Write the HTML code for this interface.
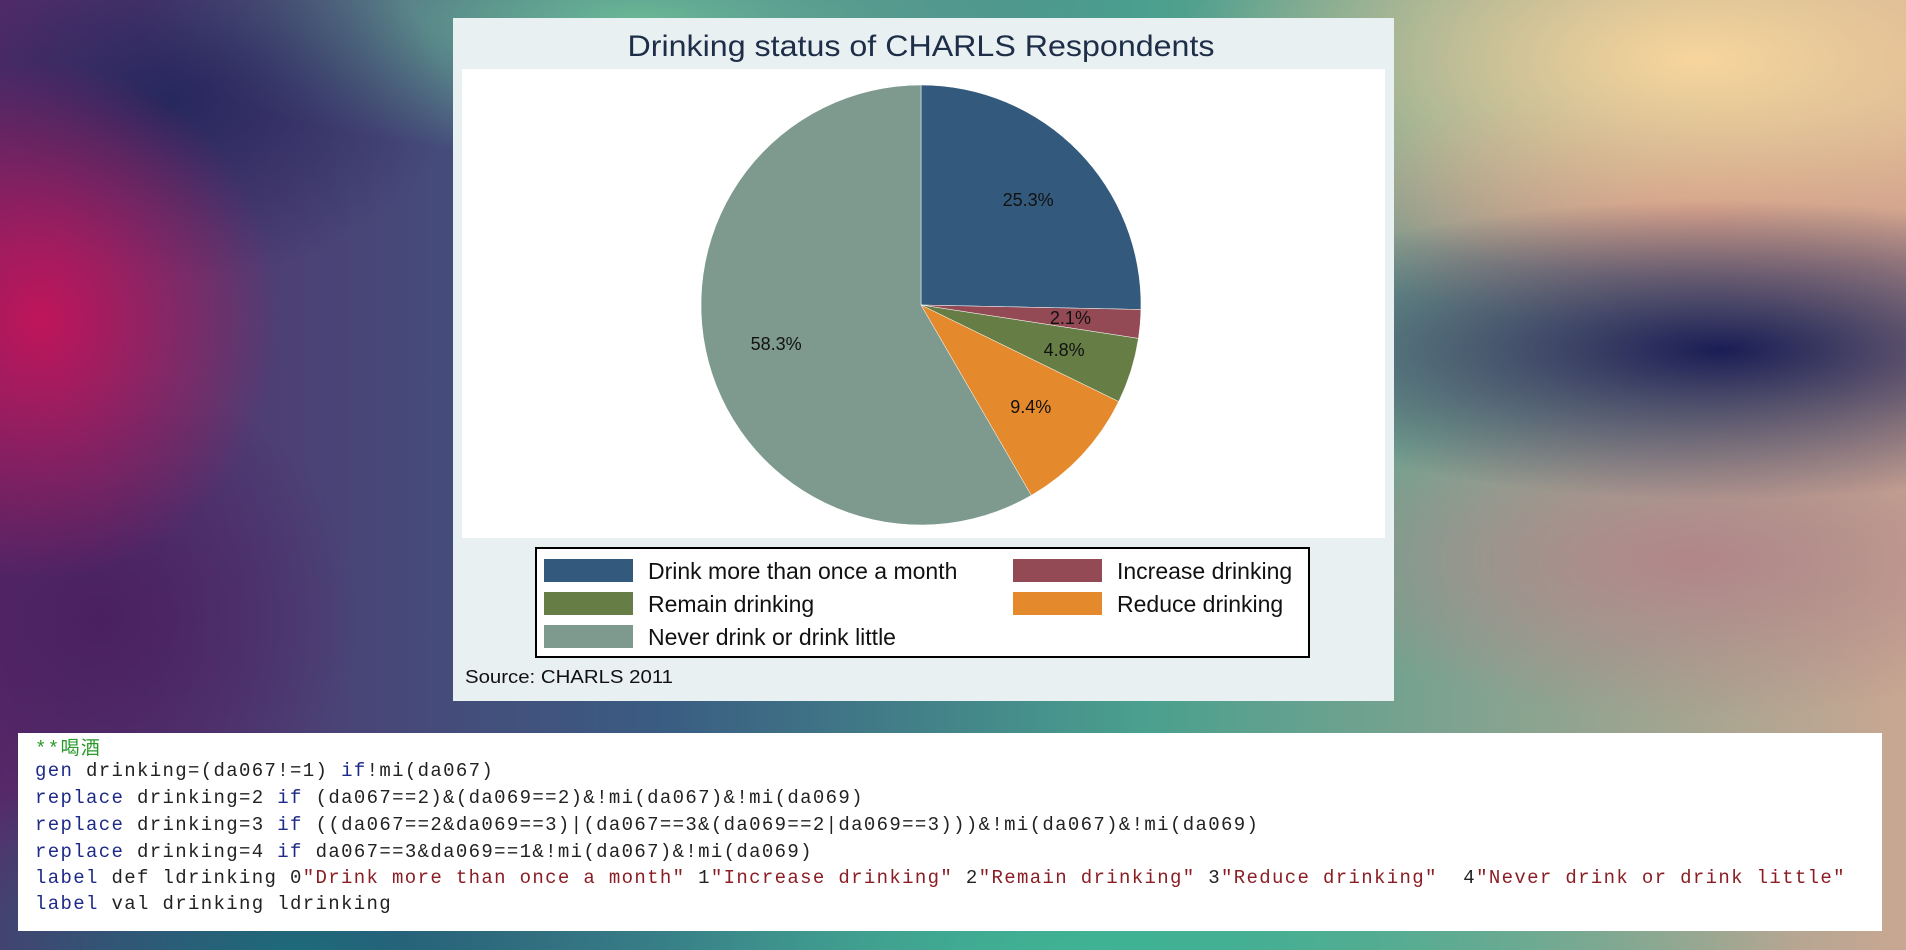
<!DOCTYPE html>
<html><head><meta charset="utf-8"><style>
html,body{margin:0;padding:0;width:1906px;height:950px;overflow:hidden}
body{position:relative;background:#2a6a80;font-family:"Liberation Sans",sans-serif}
#bg{position:absolute;left:0;top:0;width:1906px;height:950px;
background:
radial-gradient(ellipse 240px 260px at 40px 320px,#c0155a 0%,rgba(192,21,90,0) 100%),
radial-gradient(ellipse 280px 180px at 170px 100px,#26285e 0%,rgba(38,40,94,0) 100%),
radial-gradient(ellipse 520px 150px at 1720px 350px,#1a1d55 0%,rgba(26,29,85,0) 100%),
radial-gradient(ellipse 520px 220px at 1700px 60px,#f8d59c 0%,rgba(248,213,156,0) 100%),
radial-gradient(ellipse 420px 160px at 1700px 560px,#b2868a 0%,rgba(178,134,138,0) 100%),
radial-gradient(ellipse 420px 120px at 1700px 210px,#c98c84 0%,rgba(201,140,132,0) 100%),
radial-gradient(ellipse 500px 140px at 640px 20px,#6ab896 0%,rgba(106,184,150,0) 100%),
radial-gradient(ellipse 700px 200px at 1100px 950px,#3fb394 0%,rgba(63,179,148,0) 100%),
radial-gradient(ellipse 500px 200px at 300px 950px,#1d6a7a 0%,rgba(29,106,122,0) 100%),
radial-gradient(ellipse 260px 250px at 100px 620px,#4a2060 0%,rgba(74,32,96,0) 100%),
linear-gradient(90deg,#5a2a6a 0%,#3a5d82 35%,#4aa08e 60%,#c9a792 100%);}
#panel{position:absolute;left:453px;top:18px;width:941px;height:683px;background:#e8f0f2}
#code{position:absolute;left:18px;top:733px;width:1864px;height:198px;background:#fff}
.ln{position:absolute;left:17px;font-family:"Liberation Mono","Noto Sans CJK SC",monospace;font-size:19px;letter-spacing:1.35px;color:#222;white-space:pre}
.k{color:#1e2a88}.s{color:#8a1e24}.c{color:#2a9a2a}
</style></head><body>
<div id="bg"></div>
<div id="panel">
<svg width="941" height="683">
<text x="468" y="38" text-anchor="middle" font-size="30" fill="#1e2e48" textLength="587" lengthAdjust="spacingAndGlyphs">Drinking status of CHARLS Respondents</text>
<rect x="9" y="51" width="923" height="469" fill="#fff"/>
<g id="slices"></g>
<rect x="83" y="530" width="773" height="109" fill="#fff" stroke="#000" stroke-width="2"/>
<g id="legend"></g>
<text x="12" y="665" font-size="18" fill="#111" textLength="208" lengthAdjust="spacingAndGlyphs">Source: CHARLS 2011</text>
</svg>
</div>
<div id="code">
<div class="ln c" style="top:0px">**喝酒</div>
<div class="ln" style="top:27px"><span class="k">gen</span> drinking=(da067!=1) <span class="k">if</span>!mi(da067)</div>
<div class="ln" style="top:54px"><span class="k">replace</span> drinking=2 <span class="k">if</span> (da067==2)&amp;(da069==2)&amp;!mi(da067)&amp;!mi(da069)</div>
<div class="ln" style="top:81px"><span class="k">replace</span> drinking=3 <span class="k">if</span> ((da067==2&amp;da069==3)|(da067==3&amp;(da069==2|da069==3)))&amp;!mi(da067)&amp;!mi(da069)</div>
<div class="ln" style="top:108px"><span class="k">replace</span> drinking=4 <span class="k">if</span> da067==3&amp;da069==1&amp;!mi(da067)&amp;!mi(da069)</div>
<div class="ln" style="top:134px"><span class="k">label</span> def ldrinking 0<span class="s">"Drink more than once a month"</span> 1<span class="s">"Increase drinking"</span> 2<span class="s">"Remain drinking"</span> 3<span class="s">"Reduce drinking"</span>  4<span class="s">"Never drink or drink little"</span></div>
<div class="ln" style="top:160px"><span class="k">label</span> val drinking ldrinking</div>
</div>
<script>
const categories=["Drink more than once a month","Increase drinking","Remain drinking","Reduce drinking","Never drink or drink little"];
const values=[25.3,2.1,4.8,9.4,58.3];
const valueLabels=["25.3%","2.1%","4.8%","9.4%","58.3%"];
const colors=["#335a7c","#934a54","#667e45","#e5892d","#7e9a8f"];
const NS="http://www.w3.org/2000/svg";
const cx=468,cy=287,r=220,lr=150;
const total=values.reduce((a,b)=>a+b,0);
const g=document.getElementById('slices');
function pt(a,rad){return [cx+rad*Math.sin(a),cy-rad*Math.cos(a)];}
let a0=0;
values.forEach((v,i)=>{
  const a1=a0+v/total*2*Math.PI;
  const p0=pt(a0,r),p1=pt(a1,r);
  const p=document.createElementNS(NS,'path');
  p.setAttribute('d',`M${cx},${cy}L${p0[0]},${p0[1]}A${r},${r} 0 ${a1-a0>Math.PI?1:0} 1 ${p1[0]},${p1[1]}Z`);
  p.setAttribute('fill',colors[i]);
  p.setAttribute('stroke','#fff');p.setAttribute('stroke-width','0.5');
  
  
  g.appendChild(p);
  const m=(a0+a1)/2,lp=pt(m,lr);
  const t=document.createElementNS(NS,'text');
  t.setAttribute('x',lp[0]);t.setAttribute('y',lp[1]+6);
  t.setAttribute('text-anchor','middle');t.setAttribute('font-size','18');t.setAttribute('fill','#111');
  t.textContent=valueLabels[i];
  
  
  g.appendChild(t);
  a0=a1;
});
const lg=document.getElementById('legend');
categories.forEach((c,i)=>{
  const col=i%2,row=Math.floor(i/2);
  const x=col?560:91,y=541+row*33;
  const s=document.createElementNS(NS,'rect');
  s.setAttribute('x',x);s.setAttribute('y',y);s.setAttribute('width',89);s.setAttribute('height',23);s.setAttribute('fill',colors[i]);
  
  
  lg.appendChild(s);
  const t=document.createElementNS(NS,'text');
  t.setAttribute('x',x+104);t.setAttribute('y',y+20);t.setAttribute('font-size','23');t.setAttribute('fill','#111');
  t.textContent=c;
  
  
  lg.appendChild(t);
});
</script>
</body></html>
